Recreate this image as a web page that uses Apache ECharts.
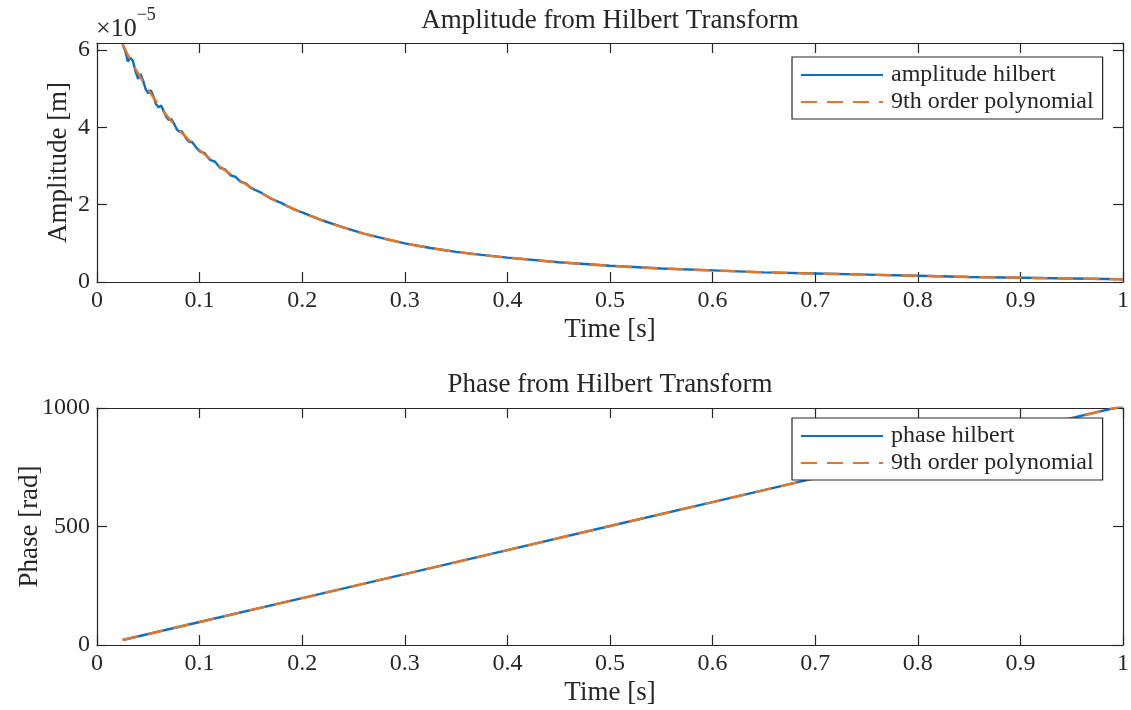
<!DOCTYPE html>
<html>
<head>
<meta charset="utf-8">
<script src="https://cdn.jsdelivr.net/npm/echarts@6/dist/echarts.min.js"></script>
<style>
  html, body { margin: 0; padding: 0; background: #fff; }
  #chart { width: 1131px; height: 710px; }
</style>
</head>
<body>
<div id="chart"></div>
<script>
// amplitude values are in units of 1e-5 m (axis shows the x10^-5 factor)
const ampTime = [
  0.025, 0.0275, 0.03, 0.0325, 0.035, 0.0375, 0.04, 0.0425, 0.045, 0.0475,
  0.05, 0.0525, 0.055, 0.0575, 0.06, 0.0625, 0.065, 0.0675, 0.07, 0.0725,
  0.075, 0.0775, 0.08, 0.0825, 0.085, 0.0875, 0.09, 0.0925, 0.095, 0.0975,
  0.1, 0.105, 0.11, 0.115, 0.12, 0.125, 0.13, 0.135, 0.14, 0.145,
  0.15, 0.16, 0.17, 0.18, 0.19, 0.2, 0.22, 0.24, 0.26, 0.28,
  0.3, 0.325, 0.35, 0.375, 0.4, 0.45, 0.5, 0.55, 0.6, 0.65,
  0.7, 0.75, 0.8, 0.85, 0.9, 0.95, 1.0
]
const ampHilbert = [
  6.15, 5.98, 5.70, 5.80, 5.72, 5.45, 5.25, 5.38, 5.20, 4.98,
  4.88, 4.96, 4.80, 4.60, 4.52, 4.56, 4.42, 4.27, 4.19, 4.21,
  4.10, 3.96, 3.89, 3.90, 3.80, 3.69, 3.62, 3.62, 3.54, 3.45,
  3.38, 3.33, 3.16, 3.11, 2.95, 2.91, 2.76, 2.72, 2.59, 2.55,
  2.43, 2.31, 2.15, 2.04, 1.90, 1.80, 1.59, 1.41, 1.25, 1.12,
  1.00, 0.88, 0.78, 0.70, 0.63, 0.51, 0.42, 0.35, 0.30, 0.25,
  0.22, 0.19, 0.16, 0.13, 0.11, 0.09, 0.07
]
const polyTime = [
  0.025, 0.03, 0.035, 0.04, 0.045, 0.05, 0.055, 0.06, 0.065, 0.07,
  0.075, 0.08, 0.085, 0.09, 0.095, 0.1, 0.11, 0.12, 0.13, 0.14,
  0.15, 0.16, 0.17, 0.18, 0.19, 0.2, 0.22, 0.24, 0.26, 0.28,
  0.3, 0.325, 0.35, 0.375, 0.4, 0.45, 0.5, 0.55, 0.6, 0.65,
  0.7, 0.75, 0.8, 0.85, 0.9, 0.95, 1.0
]
const ampPoly = [
  6.15, 5.88, 5.63, 5.40, 5.18, 4.97, 4.77, 4.58, 4.40, 4.24,
  4.08, 3.93, 3.79, 3.66, 3.53, 3.41, 3.19, 2.98, 2.79, 2.61,
  2.45, 2.30, 2.16, 2.03, 1.91, 1.79, 1.59, 1.41, 1.25, 1.12,
  1.00, 0.88, 0.78, 0.70, 0.63, 0.51, 0.42, 0.35, 0.30, 0.25,
  0.22, 0.19, 0.16, 0.13, 0.11, 0.09, 0.07
]
const phaseTime = [0.025, 0.1, 0.2, 0.3, 0.4, 0.5, 0.6, 0.7, 0.8, 0.9, 1.0]
const phaseHilbert = [21, 97, 198, 299, 400, 502, 603, 704, 805, 907, 1008]
const phasePoly = [21, 97, 198, 299, 400, 502, 603, 704, 805, 907, 1008]

const blue = '#0B6FC4'
const orange = '#E4762A'
const ink = '#262626'
const font = 'Liberation Serif'

function pairs(xs, ys) {
  return xs.map((x, i) => [x, ys[i]])
}

const chart = echarts.init(document.getElementById('chart'))

const lineAxis = { onZero: false, lineStyle: { color: ink, width: 1.2 } }
const tickIn = { show: true, inside: true, length: 10, lineStyle: { color: ink, width: 1.2 } }

function xAxes(gridIndex) {
  return [
    {
      type: 'value', gridIndex, position: 'bottom',
      min: 0, max: 1, interval: 0.1,
      name: 'Time [s]', nameLocation: 'middle', nameGap: 34,
      nameTextStyle: { fontFamily: font, fontSize: 27, color: ink },
      axisLine: lineAxis,
      axisTick: tickIn,
      axisLabel: {
        fontFamily: font, fontSize: 24, color: ink, margin: 7,
        formatter: v => String(+v.toFixed(1))
      },
      splitLine: { show: false }
    },
    {
      type: 'value', gridIndex, position: 'top',
      min: 0, max: 1, interval: 0.1,
      axisLine: lineAxis,
      axisTick: tickIn,
      axisLabel: { show: false },
      splitLine: { show: false }
    }
  ]
}

function yAxes(gridIndex, min, max, interval, name, nameGap) {
  return [
    {
      type: 'value', gridIndex, position: 'left',
      min, max, interval,
      name, nameLocation: 'middle', nameGap, nameMoveOverlap: false,
      nameTextStyle: { fontFamily: font, fontSize: 27, color: ink },
      axisLine: { show: true, ...lineAxis },
      axisTick: tickIn,
      axisLabel: {
        fontFamily: font, fontSize: 24, color: ink, margin: 7,
        showMaxLabel: max % interval === 0,
        formatter: v => (Math.abs(v / interval - Math.round(v / interval)) < 1e-6 ? String(Math.round(v)) : '')
      },
      splitLine: { show: false }
    },
    {
      type: 'value', gridIndex, position: 'right',
      min, max, interval,
      axisLine: { show: true, ...lineAxis },
      axisTick: tickIn,
      axisLabel: { show: false },
      splitLine: { show: false }
    }
  ]
}

function legend(top, names) {
  return {
    orient: 'vertical', left: 792, top,
    data: names,
    itemWidth: 82, itemHeight: 14, itemGap: 3,
    padding: [6, 9, 5, 8],
    borderColor: ink, borderWidth: 1.2, backgroundColor: '#fff',
    itemStyle: { opacity: 0, color: 'rgba(0,0,0,0)', borderWidth: 0 },
    textStyle: { fontFamily: font, fontSize: 24, lineHeight: 24, color: ink, padding: [0, 0, 0, 3] },
    selectedMode: false
  }
}

chart.setOption({
  animation: false,
  grid: [
    { left: 97, right: 8, top: 43, height: 239, outerBoundsMode: 'none' },
    { left: 97, right: 8, top: 408, height: 237, outerBoundsMode: 'none' }
  ],
  xAxis: [...xAxes(0), ...xAxes(1)],
  yAxis: [
    ...yAxes(0, 0, 6.18, 2, 'Amplitude [m]', 25),
    ...yAxes(1, 0, 1000, 500, 'Phase [rad]', 54)
  ],
  legend: [
    legend(57, ['amplitude hilbert', '9th order polynomial']),
    legend(418, ['phase hilbert', '9th order polynomial'])
  ],
  graphic: [
    {
      type: 'text', x: 610, y: 7,
      style: { text: 'Amplitude from Hilbert Transform', fontFamily: font, fontSize: 27, fill: ink, textAlign: 'center' }
    },
    {
      type: 'text', x: 610, y: 371,
      style: { text: 'Phase from Hilbert Transform', fontFamily: font, fontSize: 27, fill: ink, textAlign: 'center' }
    },
    {
      type: 'text', x: 96, y: 6,
      style: {
        text: '{a|×10}{b|−5}',
        rich: {
          a: { fontFamily: font, fontSize: 26, fill: ink, verticalAlign: 'bottom', padding: [10, 0, 0, 0] },
          b: { fontFamily: font, fontSize: 18, fill: ink, verticalAlign: 'top' }
        }
      }
    }
  ],
  series: [
    {
      name: 'amplitude hilbert', type: 'line', xAxisIndex: 0, yAxisIndex: 0,
      data: pairs(ampTime, ampHilbert), showSymbol: false, symbol: 'none',
      lineStyle: { color: blue, width: 2.4 }, itemStyle: { color: blue }
    },
    {
      name: '9th order polynomial', type: 'line', xAxisIndex: 0, yAxisIndex: 0,
      data: pairs(polyTime, ampPoly), showSymbol: false, symbol: 'none', smooth: 0.3,
      lineStyle: { color: orange, width: 2.4, type: [16, 10] }, itemStyle: { color: orange }
    },
    {
      name: 'phase hilbert', type: 'line', xAxisIndex: 2, yAxisIndex: 2,
      data: pairs(phaseTime, phaseHilbert), showSymbol: false, symbol: 'none',
      lineStyle: { color: blue, width: 2.4 }, itemStyle: { color: blue }
    },
    {
      name: '9th order polynomial', type: 'line', xAxisIndex: 2, yAxisIndex: 2,
      data: pairs(phaseTime, phasePoly), showSymbol: false, symbol: 'none',
      lineStyle: { color: orange, width: 2.4, type: [16, 10] }, itemStyle: { color: orange }
    }
  ]
})
</script>
</body>
</html>
